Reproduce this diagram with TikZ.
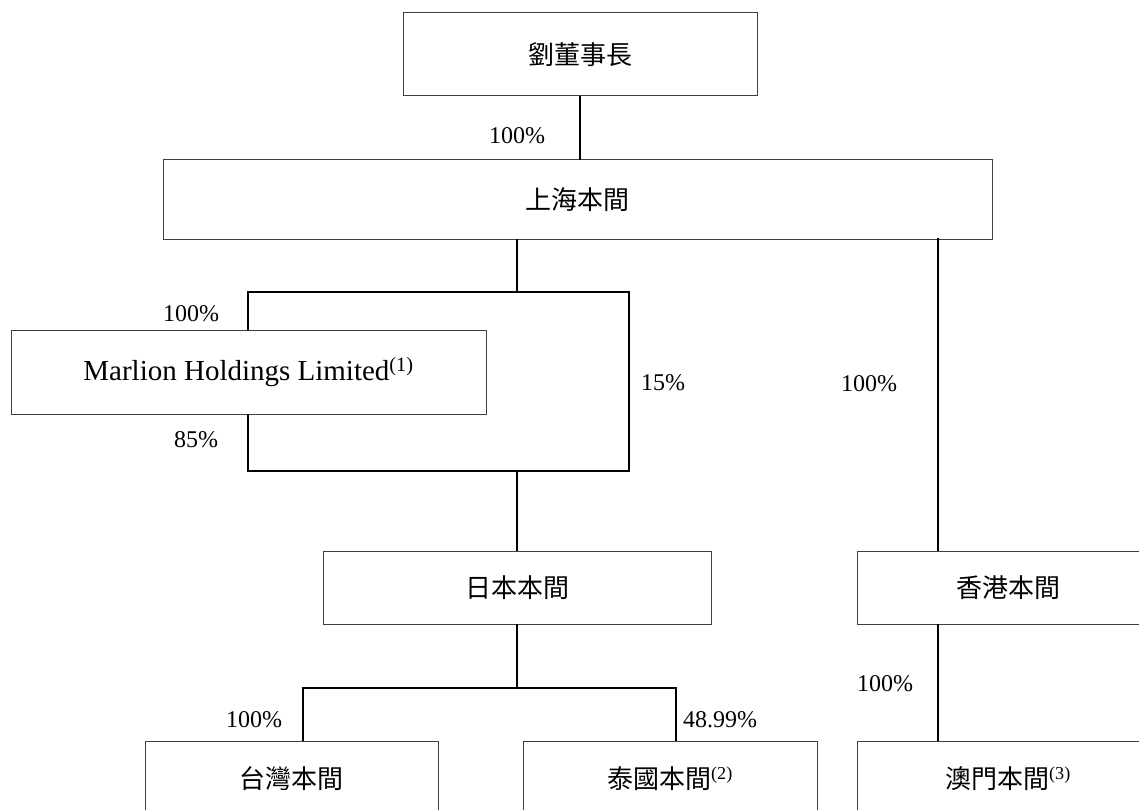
\documentclass[tikz,border=0pt]{standalone}
\usepackage{fontspec}
\setmainfont{Liberation Serif}
\newfontfamily\cjk{Noto Sans CJK TC}
\usetikzlibrary{positioning}

\newcommand{\supnote}[1]{{\rmfamily\textsuperscript{(#1)}}}

\tikzset{
  box/.style={draw=black!75, line width=1pt, inner sep=0pt,
    font=\cjk\fontsize{26}{30}\selectfont},
  link/.style={line width=1.6pt, line cap=rect},
  pct/.style={inner sep=0pt, font=\fontsize{24}{28}\selectfont}
}

\begin{document}
\begin{tikzpicture}[x=1pt,y=-1pt]
   \useasboundingbox (0,0) rectangle (1139,810);
   \clip (0,0) rectangle (1139,810);
   % Boxes
   \node[box, minimum width=354pt, minimum height=83pt] (chair) at (580,54.5) {劉董事長};
   \node[box, minimum width=829pt, minimum height=79pt] (shanghai) at (577.5,199.5) {上海本間};
   \node[box, minimum width=475pt, minimum height=84pt, font=\fontsize{29}{32}\selectfont] (marlion) at (248.5,372) {Marlion Holdings Limited\supnote{1}};
   \node[box, minimum width=388pt, minimum height=73pt] (japan) at (517,587.5) {日本本間};
   \node[box, minimum width=302pt, minimum height=73pt] (hk) at (1008,587.5) {香港本間};
   \node[box, minimum width=293pt, minimum height=76pt] (taiwan) at (291.5,779) {台灣本間};
   \node[box, minimum width=294pt, minimum height=76pt] (thai) at (670,779) {泰國本間\supnote{2}};
   \node[box, minimum width=302pt, minimum height=76pt] (macau) at (1008,779) {澳門本間\supnote{3}};
   % Chairman to Shanghai
   \draw[link] (chair.south) -- (chair.south |- shanghai.north);
   \node[pct] (p1) at (517,136) {100\%};
   % Shanghai to Marlion and Japan
   \coordinate (bt) at (517,292);
   \coordinate (btl) at (248,292);
   \coordinate (btr) at (629,292);
   \coordinate (bbl) at (248,471);
   \coordinate (bbr) at (629,471);
   \coordinate (bb) at (517,471);
   \draw[link] (shanghai.south -| bt) -- (bt);
   \draw[link] (marlion.north -| btl) -- (btl) -- (btr) -- (bbr) -- (bbl) -- (marlion.south -| bbl);
   \draw[link] (bb) -- (japan.north);
   \node[pct] (p2) at (191,314) {100\%};
   \node[pct] (p3) at (196,440) {85\%};
   \node[pct] (p4) at (663,383) {15\%};
   % Shanghai to Hong Kong to Macau
   \coordinate (hkl) at (938,239);
   \draw[link] (hkl) -- (hkl |- hk.north);
   \draw[link] (hkl |- hk.south) -- (hkl |- macau.north);
   \node[pct] (p5) at (869,384) {100\%};
   \node[pct] (p6) at (885,684) {100\%};
   % Japan to Taiwan and Thailand
   \coordinate (jb) at (517,688);
   \coordinate (jl) at (303,688);
   \coordinate (jr) at (676,688);
   \draw[link] (japan.south) -- (jb);
   \draw[link] (jl |- taiwan.north) -- (jl) -- (jr) -- (jr |- thai.north);
   \node[pct] (p7) at (254,720) {100\%};
   \node[pct] (p8) at (720,720) {48.99\%};
\end{tikzpicture}
\end{document}
